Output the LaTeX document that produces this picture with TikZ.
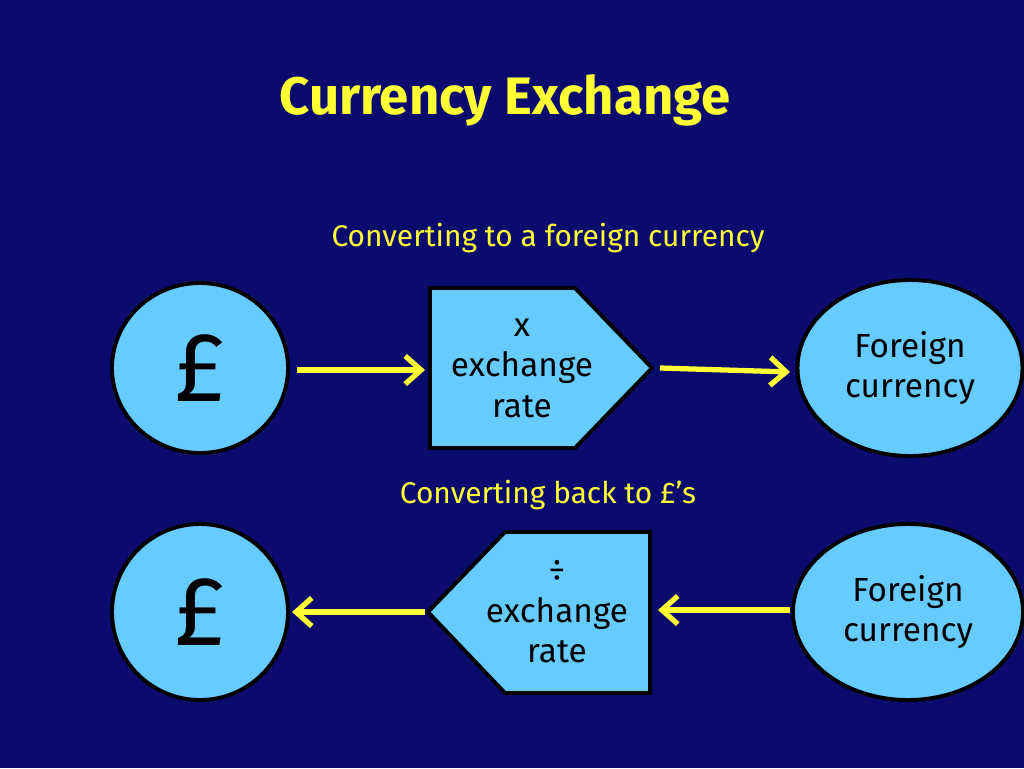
\documentclass[tikz,border=0pt]{standalone}
\usepackage{fontspec}
\setmainfont{Fira Sans}
\usetikzlibrary{arrows.meta,positioning,shapes.geometric}
\definecolor{bgblue}{HTML}{0B0B6E}
\definecolor{ballblue}{HTML}{66CCFF}
\definecolor{txtyellow}{HTML}{FFFF33}
\tikzset{
  ball/.style={ellipse,draw=black,line width=2.2pt,fill=ballblue,inner sep=0pt},
  boxshape/.style={draw=black,line width=2.2pt,fill=ballblue},
  flow/.style={draw=txtyellow,line width=3pt,-{Straight Barb[length=9pt,width=16pt,line width=3pt]}},
  body/.style={text=black,font=\fontsize{19}{23}\selectfont,align=center},
  heading/.style={text=txtyellow,font=\fontsize{17}{20}\selectfont}
}
\begin{document}
\begin{tikzpicture}[x=0.02cm,y=-0.02cm]
 \fill[bgblue] (0,0) rectangle (1024,768);
 \useasboundingbox (0,0) rectangle (1024,768);

 % title
 \node[text=txtyellow,font=\bfseries\fontsize{30}{34}\selectfont] (title) at (505,100) {Currency Exchange};

 % first row
 \node[heading] (head1) at (548,238) {Converting to a foreign currency};
 \node[ball,minimum width=3.52cm,minimum height=3.4cm,font=\fontsize{56}{60}\selectfont] (pound1) at (200,368) {£};
 \draw[boxshape] (430,288) -- (575,288) -- (652,368) -- (575,448) -- (430,448) -- cycle;
 \node[body] (mult) at (522,368) {x\\exchange\\rate};
 \node[ball,minimum width=4.5cm,minimum height=3.52cm,body] (foreign1) at (910,368) {Foreign\\currency};
 \coordinate (a1) at (297,370);
 \coordinate (a2) at (425,370);
 \coordinate (a3) at (660,368);
 \coordinate (a4) at (790,372);
 \draw[flow] (a1) -- (a2);
 \draw[flow] (a3) -- (a4);

 % second row
 \node[heading] (head2) at (548,495) {Converting back to £’s};
 \node[ball,minimum width=3.52cm,minimum height=3.52cm,font=\fontsize{56}{60}\selectfont] (pound2) at (200,612) {£};
 \draw[boxshape] (650,532) -- (505,532) -- (428,612) -- (505,693) -- (650,693) -- cycle;
 \node[body] (divide) at (557,612) {÷\\exchange\\rate};
 \node[ball,minimum width=4.6cm,minimum height=3.52cm,body] (foreign2) at (908,612) {Foreign\\currency};
 \coordinate (b1) at (425,612);
 \coordinate (b2) at (292,612);
 \coordinate (b3) at (790,610);
 \coordinate (b4) at (658,610);
 \draw[flow] (b1) -- (b2);
 \draw[flow] (b3) -- (b4);
\end{tikzpicture}
\end{document}
